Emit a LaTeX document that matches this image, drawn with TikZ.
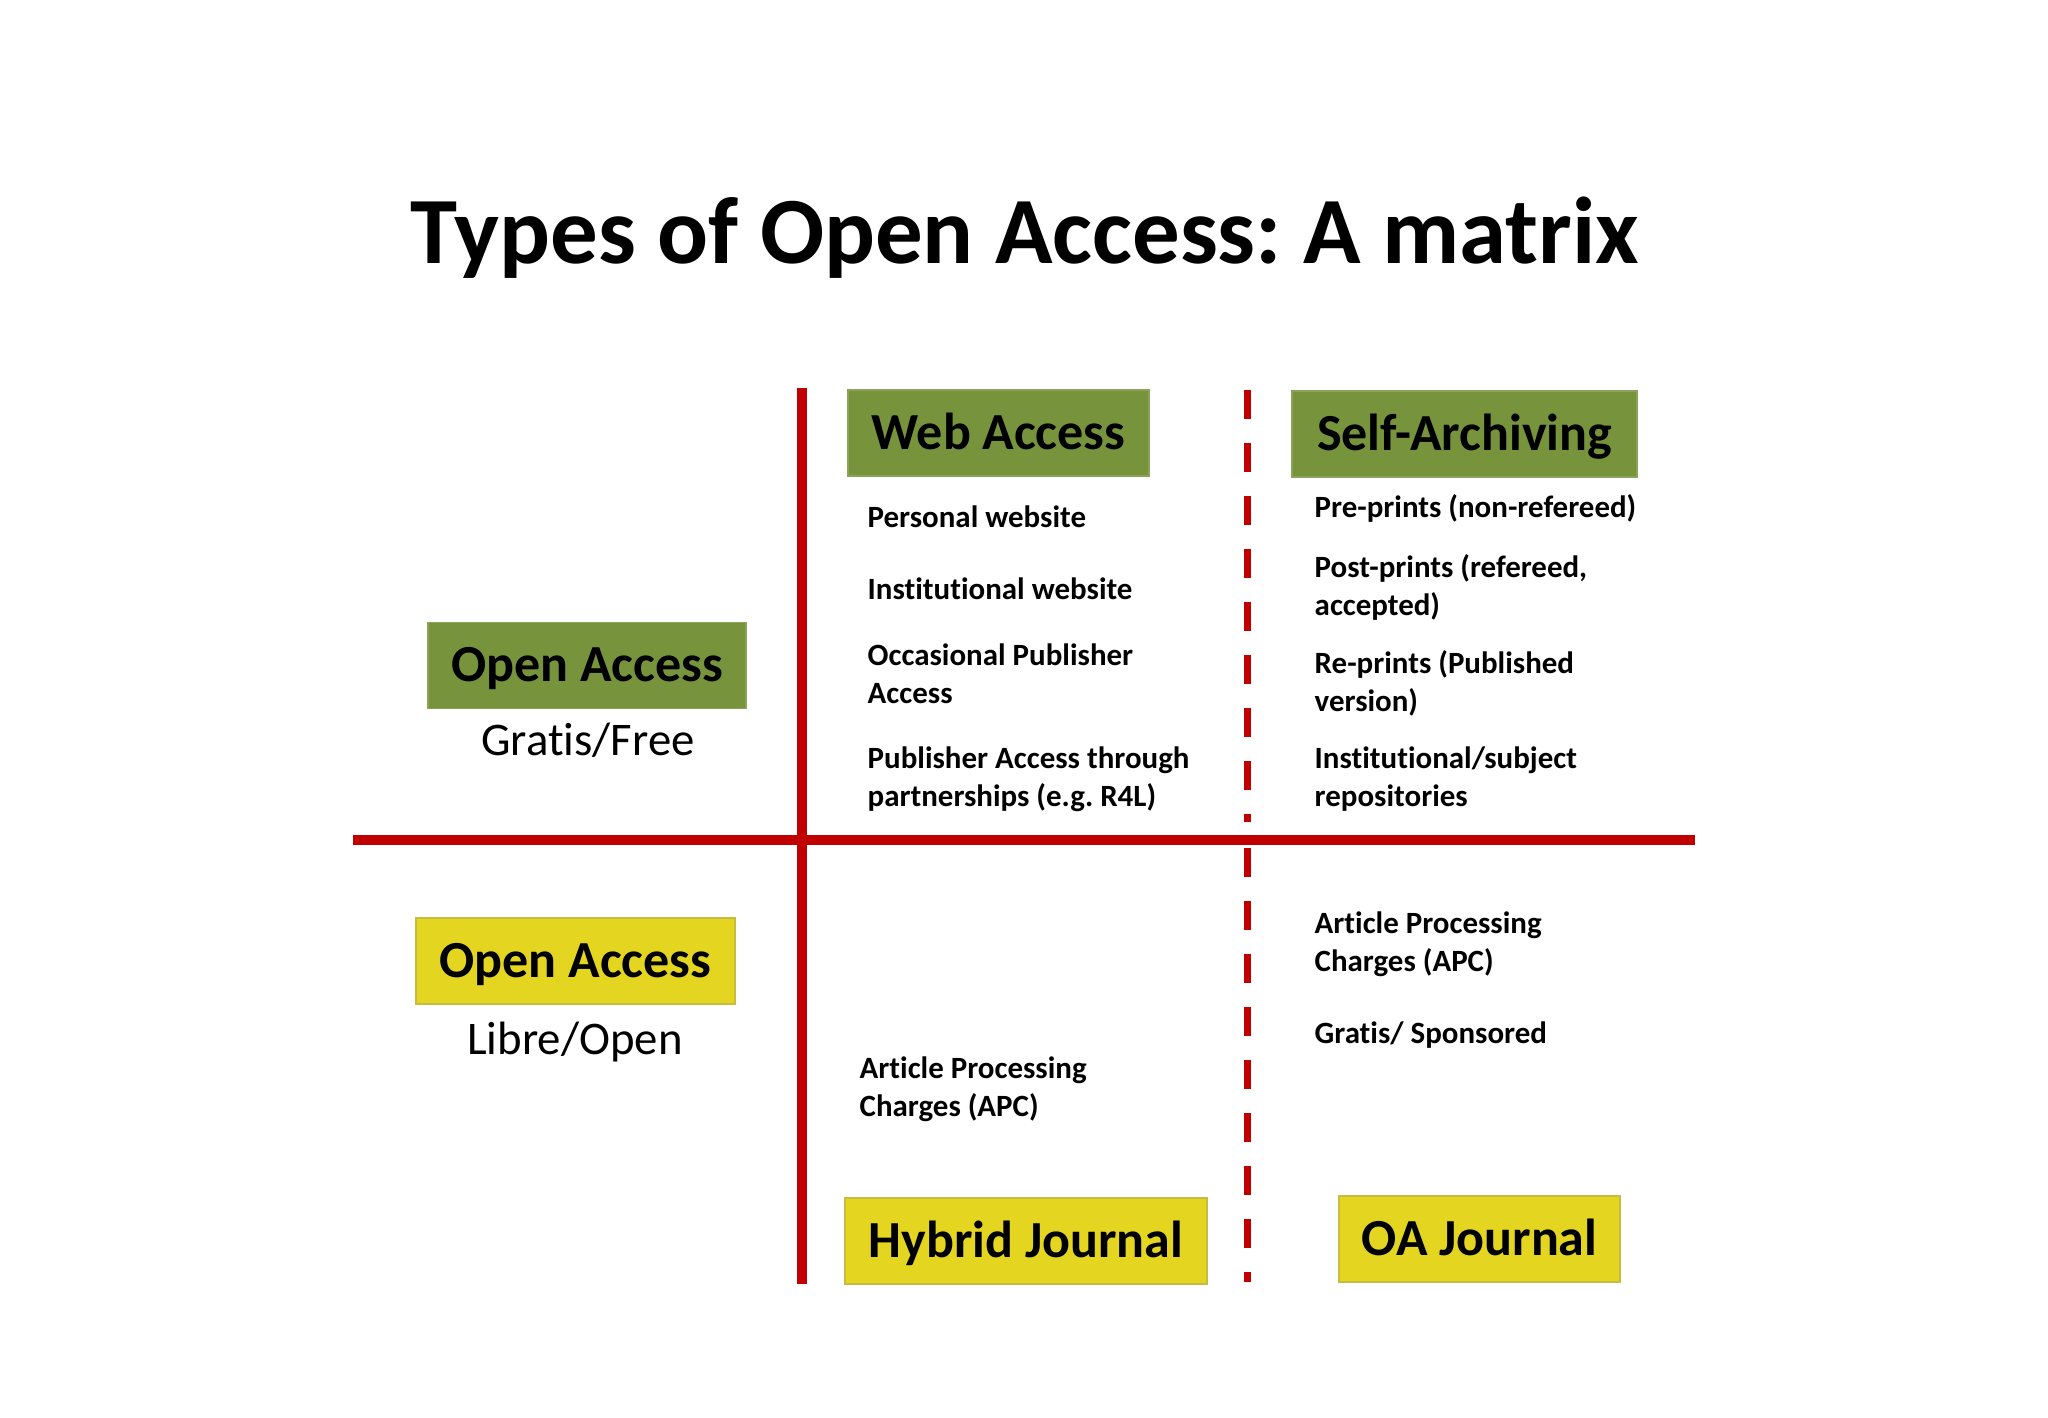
\documentclass[tikz,border=0pt]{standalone}
\usepackage{fontspec}
\setmainfont{Carlito}[Ligatures=NoCommon]
\usepackage{tikz}
\usetikzlibrary{positioning, calc}
\usepackage{xcolor}
\definecolor{oagreen}{RGB}{119,147,60}
\definecolor{oayellow}{RGB}{228,214,32}
\definecolor{oared}{RGB}{192,0,0}
\frenchspacing

\begin{document}
\begin{tikzpicture}[x=0.01cm, y=-0.01cm,
        labelbox/.style={inner sep=0pt, minimum height=0.86cm, text height=9.35pt, text depth=0pt,
            font=\bfseries\fontsize{14.8}{17}\selectfont},
        greenbox/.style={labelbox, fill=oagreen, draw=oagreen!85!white, line width=0.5pt},
        yellowbox/.style={labelbox, fill=oayellow, draw=oayellow!70!gray, line width=0.5pt},
        item/.style={anchor=base west, inner sep=0pt, align=left,
            font=\bfseries\fontsize{8.8}{10.8}\selectfont},
        kind/.style={anchor=base, inner sep=0pt, font=\fontsize{13.3}{16}\selectfont},
        divider/.style={oared, line width=0.1cm},
        halfdivider/.style={oared, line width=0.07cm, dash pattern=on 0.29cm off 0.24cm}]

        % Page
        \fill[white] (0,0) rectangle (2048,1418);
        \useasboundingbox (0,0) rectangle (2048,1418);

        % Define Coordinates
        \coordinate (V1) at (802,388);
        \coordinate (V2) at (802,1284);
        \coordinate (H1) at (353,840);
        \coordinate (H2) at (1695,840);
        \coordinate (D1) at (1247,390);
        \coordinate (D2) at (1247,822);
        \coordinate (D3) at (1247,848);
        \coordinate (D4) at (1247,1282);

        % Title
        \node[anchor=base, inner sep=0pt, font=\bfseries\fontsize{27}{32}\selectfont] (title) at (1025,263)
            {Types of Open Access: A matrix};

        % Draw Axes
        \draw[divider] (V1) -- (V2);
        \draw[divider] (H1) -- (H2);
        \draw[halfdivider] (D1) -- (D2);
        \draw[halfdivider] (D3) -- (D4);

        % Column Headers
        \node[greenbox, minimum width=3.01cm] (web) at (998.5,433) {Web Access};
        \node[greenbox, minimum width=3.45cm] (self) at (1464.5,434) {Self-Archiving};
        \node[yellowbox, minimum width=3.62cm] (hybrid) at (1026,1241) {Hybrid Journal};
        \node[yellowbox, minimum width=2.81cm] (oaj) at (1479.5,1239) {OA Journal};

        % Row Headers
        \node[greenbox, minimum width=3.18cm] (gratis) at (587,665.5) {Open Access};
        \node[kind] (gratistext) at (588,755) {Gratis/Free};
        \node[yellowbox, minimum width=3.19cm] (libre) at (575.5,961) {Open Access};
        \node[kind] (libretext) at (575,1054) {Libre/Open};

        % Web Access Items (base = last line)
        \node[item] (personal) at (867,527) {Personal website};
        \node[item] (institutional) at (867,599) {Institutional website};
        \node[item] (occasional) at (867,703) {Occasional Publisher\\Access};
        \node[item] (partner) at (867,806) {Publisher Access through\\partnerships (e.g. R4L)};

        % Self-Archiving Items
        \node[item] (preprint) at (1314,517) {Pre-prints (non-refereed)};
        \node[item] (postprint) at (1314,615) {Post-prints (refereed,\\accepted)};
        \node[item] (reprint) at (1314,711) {Re-prints (Published\\version)};
        \node[item] (repos) at (1314,806) {Institutional/subject\\repositories};

        % Journal Items
        \node[item] (oaapc) at (1314,971) {Article Processing\\Charges (APC)};
        \node[item] (sponsored) at (1314,1043) {Gratis/ Sponsored};
        \node[item] (hybridapc) at (859,1116) {Article Processing\\Charges (APC)};

\end{tikzpicture}
\end{document}
